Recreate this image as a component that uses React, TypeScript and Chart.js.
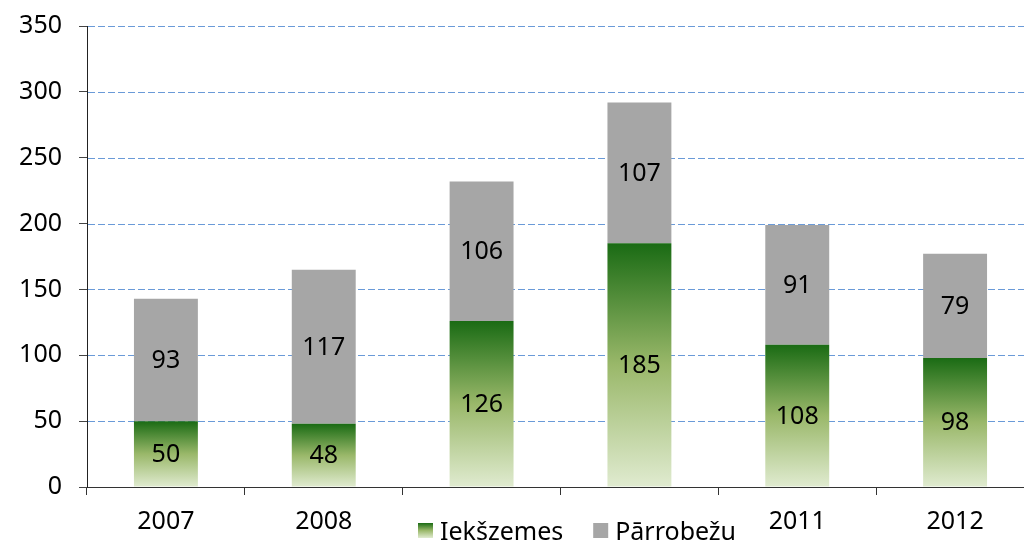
import React, { useEffect, useRef } from "react";
import { Chart, registerables } from "chart.js";

Chart.register(...registerables);

const years = ["2007", "2008", "2009", "2010", "2011", "2012"];
const domestic = [50, 48, 126, 185, 108, 98];
const crossBorder = [93, 117, 106, 107, 91, 79];
const seriesNames = ["Iekšzemes", "Pārrobežu"];
const yTicks = [0, 50, 100, 150, 200, 250, 300, 350];

const FONT = "'Noto Sans', Tahoma, sans-serif";
const FSIZE = 25;
const GRAY = "#a6a6a6";
const GRID_BLUE = "#6a9ad8";

function greenGradient(ctx: CanvasRenderingContext2D, top: number, bottom: number) {
  const g = ctx.createLinearGradient(0, top, 0, bottom);
  g.addColorStop(0, "#1a6b14");
  g.addColorStop(0.5, "#9ab86a");
  g.addColorStop(1, "#e0ebd0");
  return g;
}

const dashedGrid = {
  id: "dashedGrid",
  beforeDatasetsDraw(chart: any) {
    const ctx = chart.ctx;
    const ys = chart.scales.y;
    const area = chart.chartArea;
    ctx.save();
    ctx.strokeStyle = GRID_BLUE;
    ctx.lineWidth = 1;
    ctx.setLineDash([7, 3]);
    ys.ticks.forEach((t: any) => {
      if (t.value === 0) return;
      const y = Math.round(ys.getPixelForValue(t.value)) + 0.5;
      ctx.beginPath();
      ctx.moveTo(area.left + 1, y);
      ctx.lineTo(area.right, y);
      ctx.stroke();
    });
    ctx.restore();
  },
};

const valueLabels = {
  id: "valueLabels",
  afterDatasetsDraw(chart: any) {
    const ctx = chart.ctx;
    ctx.save();
    ctx.font = `${FSIZE}px ${FONT}`;
    ctx.fillStyle = "#000";
    ctx.textAlign = "center";
    ctx.textBaseline = "middle";
    chart.data.datasets.forEach((ds: any, di: number) => {
      const meta = chart.getDatasetMeta(di);
      meta.data.forEach((bar: any, i: number) => {
        const props = bar.getProps(["x", "y", "base"], true);
        const cy = (props.y + props.base) / 2;
        ctx.fillText(String(ds.data[i]), props.x, cy + 1);
      });
    });
    ctx.restore();
  },
};

const bottomLegend = {
  id: "bottomLegend",
  afterDraw(chart: any) {
    const ctx = chart.ctx;
    ctx.save();
    ctx.font = `${FSIZE}px ${FONT}`;
    const sqTop = 523;
    const sq = 15;
    const baseline = 540;
    const items = chart.data.datasets.map((d: any) => d.label);
    ctx.fillStyle = "#fff";
    ctx.fillRect(405, 503, 340, 40);
    let x = 418;
    items.forEach((label: string, i: number) => {
      if (i === 0) {
        ctx.fillStyle = greenGradient(ctx, sqTop, sqTop + sq);
      } else {
        ctx.fillStyle = GRAY;
      }
      ctx.fillRect(x, sqTop, sq, sq);
      ctx.fillStyle = "#000";
      ctx.textAlign = "left";
      ctx.textBaseline = "alphabetic";
      ctx.fillText(label, x + sq + 7, baseline);
      x += sq + 7 + ctx.measureText(label).width + 30;
    });
    ctx.restore();
  },
};

export default function App() {
  const ref = useRef<HTMLCanvasElement>(null);

  useEffect(() => {
    if (!ref.current) return;
    const chart = new Chart(ref.current, {
      type: "bar",
      data: {
        labels: years,
        datasets: [
          {
            label: seriesNames[0],
            data: domestic,
            backgroundColor: (c: any) => {
              const ch = c.chart;
              const ys = ch.scales?.y;
              if (!ys || c.raw === undefined) return "#5a9a3a";
              const top = ys.getPixelForValue(c.raw);
              const bottom = ys.getPixelForValue(0);
              if (!isFinite(top) || !isFinite(bottom) || top === bottom) return "#5a9a3a";
              return greenGradient(ch.ctx, top, bottom);
            },
            borderWidth: 0,
            barPercentage: 0.405,
            categoryPercentage: 1,
          },
          {
            label: seriesNames[1],
            data: crossBorder,
            backgroundColor: GRAY,
            borderWidth: 0,
            barPercentage: 0.405,
            categoryPercentage: 1,
          },
        ],
      },
      options: {
        animation: false,
        responsive: false,
        maintainAspectRatio: false,
        layout: { padding: { top: 0, right: 2, left: 0, bottom: 0 } },
        plugins: {
          legend: { display: false },
          tooltip: { enabled: false },
        },
        scales: {
          x: {
            stacked: true,
            grid: {
              drawOnChartArea: false,
              drawTicks: true,
              tickLength: 8,
              tickColor: "#333",
              offset: true,
            },
            border: { color: "#333", width: 1 },
            ticks: {
              color: "#000",
              font: { family: FONT, size: FSIZE },
              padding: 12,
              maxRotation: 0,
              autoSkip: false,
            },
            afterFit: (s: any) => {
              s.height = 53;
            },
          },
          y: {
            stacked: true,
            min: 0,
            max: 350,
            afterBuildTicks: (s: any) => {
              s.ticks = yTicks.map((v) => ({ value: v }));
            },
            grid: {
              drawOnChartArea: false,
              drawTicks: true,
              color: "#444",
              lineWidth: 1,
              tickLength: 8,
              tickColor: "#444",
            },
            border: { color: "#222", width: 1 },
            ticks: {
              color: "#000",
              font: { family: FONT, size: FSIZE },
              padding: 17,
            },
            afterFit: (s: any) => {
              s.width = 87;
              s.paddingTop = 26;
              s.paddingBottom = 0;
            },
          },
        },
      },
      plugins: [dashedGrid, valueLabels, bottomLegend],
    });
    return () => chart.destroy();
  }, []);

  return (
    <div
      style={{
        position: "fixed",
        left: 0,
        top: 0,
        width: 1024,
        height: 540,
        overflow: "hidden",
        background: "#fff",
      }}
    >
      <canvas ref={ref} width={1036} height={540} style={{ width: 1036, height: 540, display: "block" }} />
    </div>
  );
}
